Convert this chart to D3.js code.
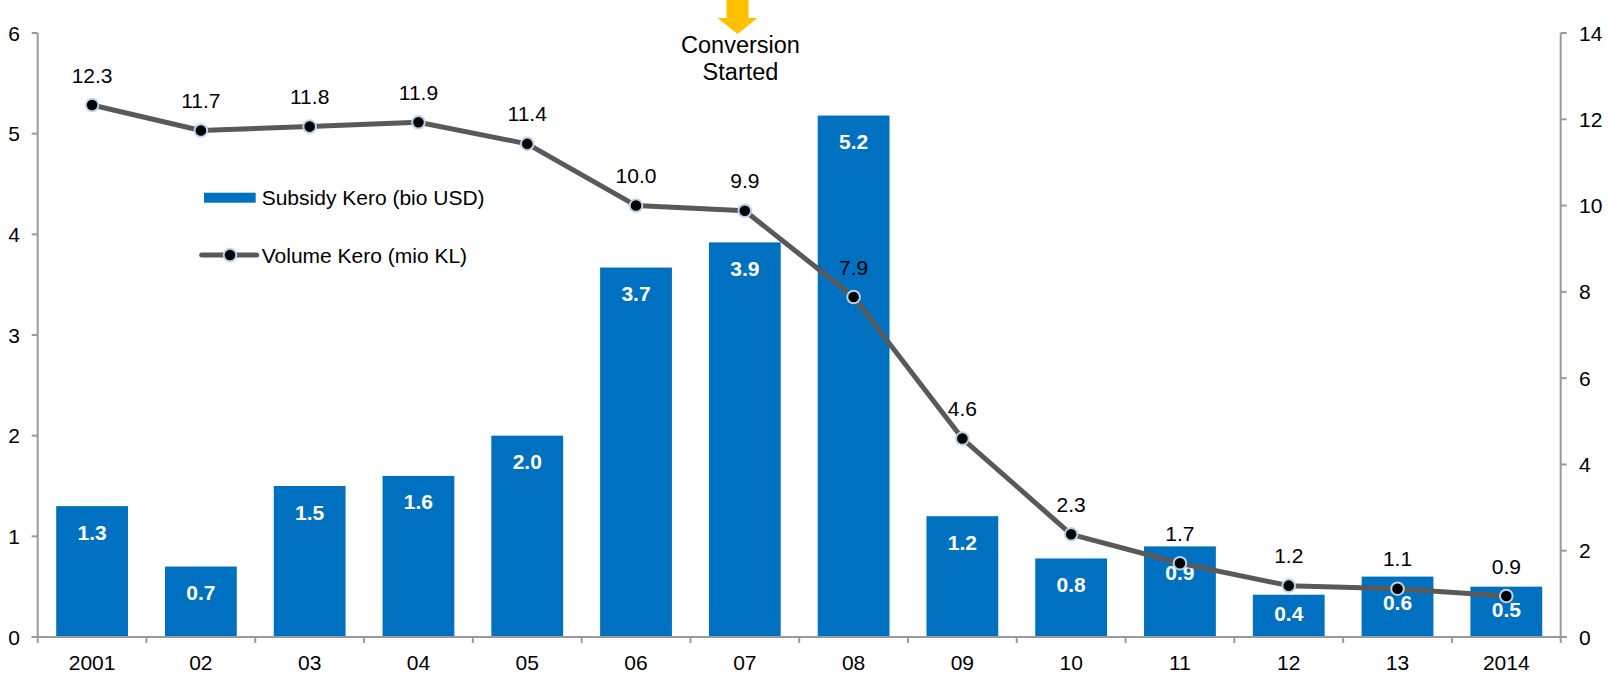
<!DOCTYPE html>
<html>
<head>
<meta charset="utf-8">
<script src="https://cdn.jsdelivr.net/npm/d3@7"></script>
<style>
  html, body { margin: 0; padding: 0; background: #fff; }
  svg text { font-family: "Liberation Sans", Arial, sans-serif; }
</style>
</head>
<body>
<svg width="1608" height="676"></svg>
<script>
const years = ['2001', '02', '03', '04', '05', '06', '07', '08', '09', '10', '11', '12', '13', '2014'];
const subsidy = [1.3, 0.7, 1.5, 1.6, 2.0, 3.67, 3.92, 5.18, 1.2, 0.78, 0.9, 0.42, 0.6, 0.5];
const subsidyLabels = ['1.3', '0.7', '1.5', '1.6', '2.0', '3.7', '3.9', '5.2', '1.2', '0.8', '0.9', '0.4', '0.6', '0.5'];
const volume = [12.33, 11.74, 11.83, 11.93, 11.43, 10.0, 9.88, 7.88, 4.6, 2.38, 1.71, 1.19, 1.12, 0.95];
const volumeLabels = ['12.3', '11.7', '11.8', '11.9', '11.4', '10.0', '9.9', '7.9', '4.6', '2.3', '1.7', '1.2', '1.1', '0.9'];
const leftTicks = [0, 1, 2, 3, 4, 5, 6];
const rightTicks = [0, 2, 4, 6, 8, 10, 12, 14];

const barColor = '#0070C0';
const lineColor = '#595959';
const axisColor = '#9A9A9A';

const svg = d3.select('svg');

// plot area
const plotL = 37.7, plotR = 1560.7, plotT = 33, plotB = 637;

const x = d3.scaleBand().domain(years).range([plotL, plotR]).paddingInner(0.34).paddingOuter(0.17);
const xb = d3.scaleBand().domain(years).range([plotL, plotR]);
const y = d3.scaleLinear().domain([0, 6]).range([plotB, plotT]);
const y2 = d3.scaleLinear().domain([0, 14]).range([plotB, plotT]);

// bars
svg.selectAll('.bar')
  .data(subsidy)
  .enter()
  .append('rect')
  .attr('x', (d, i) => x(years[i]))
  .attr('y', d => y(d))
  .attr('width', x.bandwidth())
  .attr('height', d => plotB - y(d))
  .attr('fill', barColor);

// bar labels
svg.selectAll('.barlabel')
  .data(subsidy)
  .enter()
  .append('text')
  .attr('x', (d, i) => x(years[i]) + x.bandwidth() / 2)
  .attr('y', d => Math.min(y(d) + 26, (y(d) + plotB) / 2 - 2))
  .attr('dy', '0.36em')
  .attr('text-anchor', 'middle')
  .attr('fill', '#fff')
  .attr('font-weight', 'bold')
  .attr('font-size', 21)
  .text((d, i) => subsidyLabels[i]);

// axes
const axisG = svg.append('g');

axisG.append('line')
  .attr('x1', plotL).attr('x2', plotL).attr('y1', plotT).attr('y2', plotB)
  .attr('stroke', axisColor).attr('stroke-width', 2);
axisG.append('line')
  .attr('x1', plotR).attr('x2', plotR).attr('y1', plotT).attr('y2', plotB)
  .attr('stroke', axisColor).attr('stroke-width', 2);
axisG.append('line')
  .attr('x1', plotL - 6).attr('x2', plotR + 6).attr('y1', plotB).attr('y2', plotB)
  .attr('stroke', axisColor).attr('stroke-width', 2);

// left ticks
axisG.selectAll('.lt')
  .data(leftTicks)
  .enter()
  .append('line')
  .attr('x1', plotL - 6).attr('x2', plotL)
  .attr('y1', d => y(d)).attr('y2', d => y(d))
  .attr('stroke', axisColor).attr('stroke-width', 2);
axisG.selectAll('.ltl')
  .data(leftTicks)
  .enter()
  .append('text')
  .attr('x', 20)
  .attr('y', d => y(d))
  .attr('dy', '0.36em')
  .attr('text-anchor', 'end')
  .attr('font-size', 21)
  .attr('fill', '#000')
  .text(d => d);

// right ticks
axisG.selectAll('.rt')
  .data(rightTicks)
  .enter()
  .append('line')
  .attr('x1', plotR).attr('x2', plotR + 6)
  .attr('y1', d => y2(d)).attr('y2', d => y2(d))
  .attr('stroke', axisColor).attr('stroke-width', 2);
axisG.selectAll('.rtl')
  .data(rightTicks)
  .enter()
  .append('text')
  .attr('x', 1579)
  .attr('y', d => y2(d))
  .attr('dy', '0.36em')
  .attr('text-anchor', 'start')
  .attr('font-size', 21)
  .attr('fill', '#000')
  .text(d => d);

// category boundary ticks
const bounds = years.map(d => xb(d)).concat([plotR]);
axisG.selectAll('.xt')
  .data(bounds)
  .enter()
  .append('line')
  .attr('x1', d => d).attr('x2', d => d)
  .attr('y1', plotB).attr('y2', plotB + 6)
  .attr('stroke', axisColor).attr('stroke-width', 2);
axisG.selectAll('.xtl')
  .data(years)
  .enter()
  .append('text')
  .attr('x', d => xb(d) + xb.bandwidth() / 2)
  .attr('y', 670)
  .attr('text-anchor', 'middle')
  .attr('font-size', 21)
  .attr('fill', '#000')
  .text(d => d);

// volume line
const cx = (d, i) => xb(years[i]) + xb.bandwidth() / 2;
const line = d3.line()
  .x(cx)
  .y(d => y2(d));

svg.append('path')
  .datum(volume)
  .attr('d', line)
  .attr('fill', 'none')
  .attr('stroke', lineColor)
  .attr('stroke-width', 5)
  .attr('stroke-linejoin', 'round');

svg.selectAll('.pt')
  .data(volume)
  .enter()
  .append('circle')
  .attr('cx', cx)
  .attr('cy', d => y2(d))
  .attr('r', 6.3)
  .attr('fill', '#000')
  .attr('stroke', '#B9D3EE')
  .attr('stroke-width', 2);

svg.selectAll('.ptl')
  .data(volume)
  .enter()
  .append('text')
  .attr('x', cx)
  .attr('y', d => y2(d) - 30)
  .attr('dy', '0.36em')
  .attr('text-anchor', 'middle')
  .attr('font-size', 21)
  .attr('fill', '#000')
  .text((d, i) => volumeLabels[i]);

// legend
const legend = svg.append('g');
legend.append('rect')
  .attr('x', 204).attr('y', 192.7).attr('width', 51.7).attr('height', 10)
  .attr('fill', barColor);
legend.append('text')
  .attr('x', 261.7).attr('y', 197.7).attr('dy', '0.36em')
  .attr('font-size', 21).attr('fill', '#000')
  .text('Subsidy Kero (bio USD)');
legend.append('line')
  .attr('x1', 201.7).attr('x2', 256.7).attr('y1', 255).attr('y2', 255)
  .attr('stroke', lineColor).attr('stroke-width', 5).attr('stroke-linecap', 'round');
legend.append('circle')
  .attr('cx', 230).attr('cy', 255).attr('r', 6.3)
  .attr('fill', '#000').attr('stroke', '#B9D3EE').attr('stroke-width', 2);
legend.append('text')
  .attr('x', 261.7).attr('y', 255).attr('dy', '0.36em')
  .attr('font-size', 21).attr('fill', '#000')
  .text('Volume Kero (mio KL)');

// annotation arrow
const ax = 737.5;
svg.append('path')
  .attr('d', `M${ax - 11},0 L${ax + 11},0 L${ax + 11},18 L${ax + 20},18 L${ax},34 L${ax - 20},18 L${ax - 11},18 Z`)
  .attr('fill', '#FFC000');
svg.append('text')
  .attr('x', 740.5).attr('y', 52.7)
  .attr('text-anchor', 'middle')
  .attr('font-size', 23.5).attr('fill', '#000')
  .text('Conversion');
svg.append('text')
  .attr('x', 740.5).attr('y', 80)
  .attr('text-anchor', 'middle')
  .attr('font-size', 23.5).attr('fill', '#000')
  .text('Started');
</script>
</body>
</html>
